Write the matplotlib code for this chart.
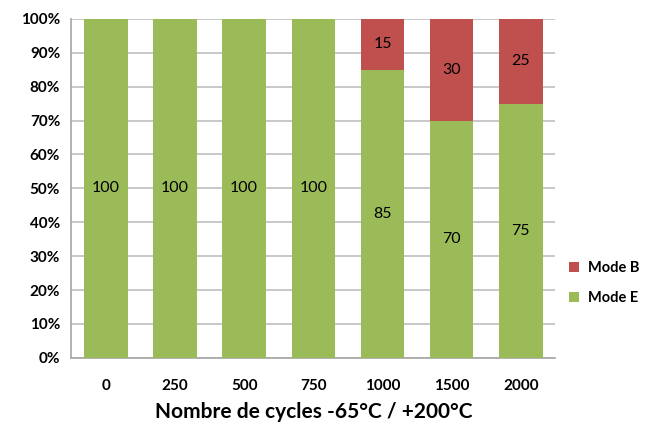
import matplotlib.pyplot as plt
import numpy as np

cycles = ["0", "250", "500", "750", "1000", "1500", "2000"]
mode_e = [100, 100, 100, 100, 85, 70, 75]
mode_b = [0, 0, 0, 0, 15, 30, 25]

green = "#9BBB59"
red = "#C0504D"

plt.rcParams["font.family"] = ["Lato", "DejaVu Sans"]

fig = plt.figure(figsize=(6.66, 4.28), dpi=100)
ax = fig.add_axes([0.107, 0.164, 0.727, 0.792])

x = np.arange(len(cycles))
w = 0.63
be = ax.bar(x, mode_e, w, color=green, label="Mode E", zorder=3)
bb = ax.bar(x, mode_b, w, bottom=mode_e, color=red, label="Mode B", zorder=3)

for i in range(len(cycles)):
    ax.text(x[i], mode_e[i] / 2, str(mode_e[i]), ha="center", va="center",
            fontsize=11.5, zorder=4)
    if mode_b[i] > 0:
        ax.text(x[i], mode_e[i] + mode_b[i] / 2, str(mode_b[i]),
                ha="center", va="center", fontsize=11.5, zorder=4)

ax.set_xlim(-0.5, len(cycles) - 0.5)
ax.set_ylim(0, 100)
ax.set_yticks(range(0, 101, 10))
ax.set_yticklabels([f"{v}%" for v in range(0, 101, 10)],
                   fontsize=11, fontweight="bold")
ax.set_xticks(x)
ax.set_xticklabels(cycles, fontsize=11, fontweight="bold")
ax.tick_params(axis="both", length=0)
ax.tick_params(axis="x", pad=15)
ax.tick_params(axis="y", pad=8)

ax.yaxis.grid(True, color="#BFBFBF", lw=1.2, zorder=0)
for sp in ["top", "right"]:
    ax.spines[sp].set_visible(False)
for sp in ["left", "bottom"]:
    ax.spines[sp].set_color("#A6A6A6")
    ax.spines[sp].set_linewidth(1.2)

ax.set_xlabel("Nombre de cycles -65°C / +200°C", fontsize=15, fontweight="bold",
              labelpad=7)

ax.legend(handles=[bb, be], loc="center left", bbox_to_anchor=(1.0, 0.22),
          frameon=False, prop={"weight": "bold", "size": 10.5},
          handlelength=0.7, handleheight=0.7, labelspacing=1.1, handletextpad=0.6)

fig.savefig("out.png", dpi=100)
